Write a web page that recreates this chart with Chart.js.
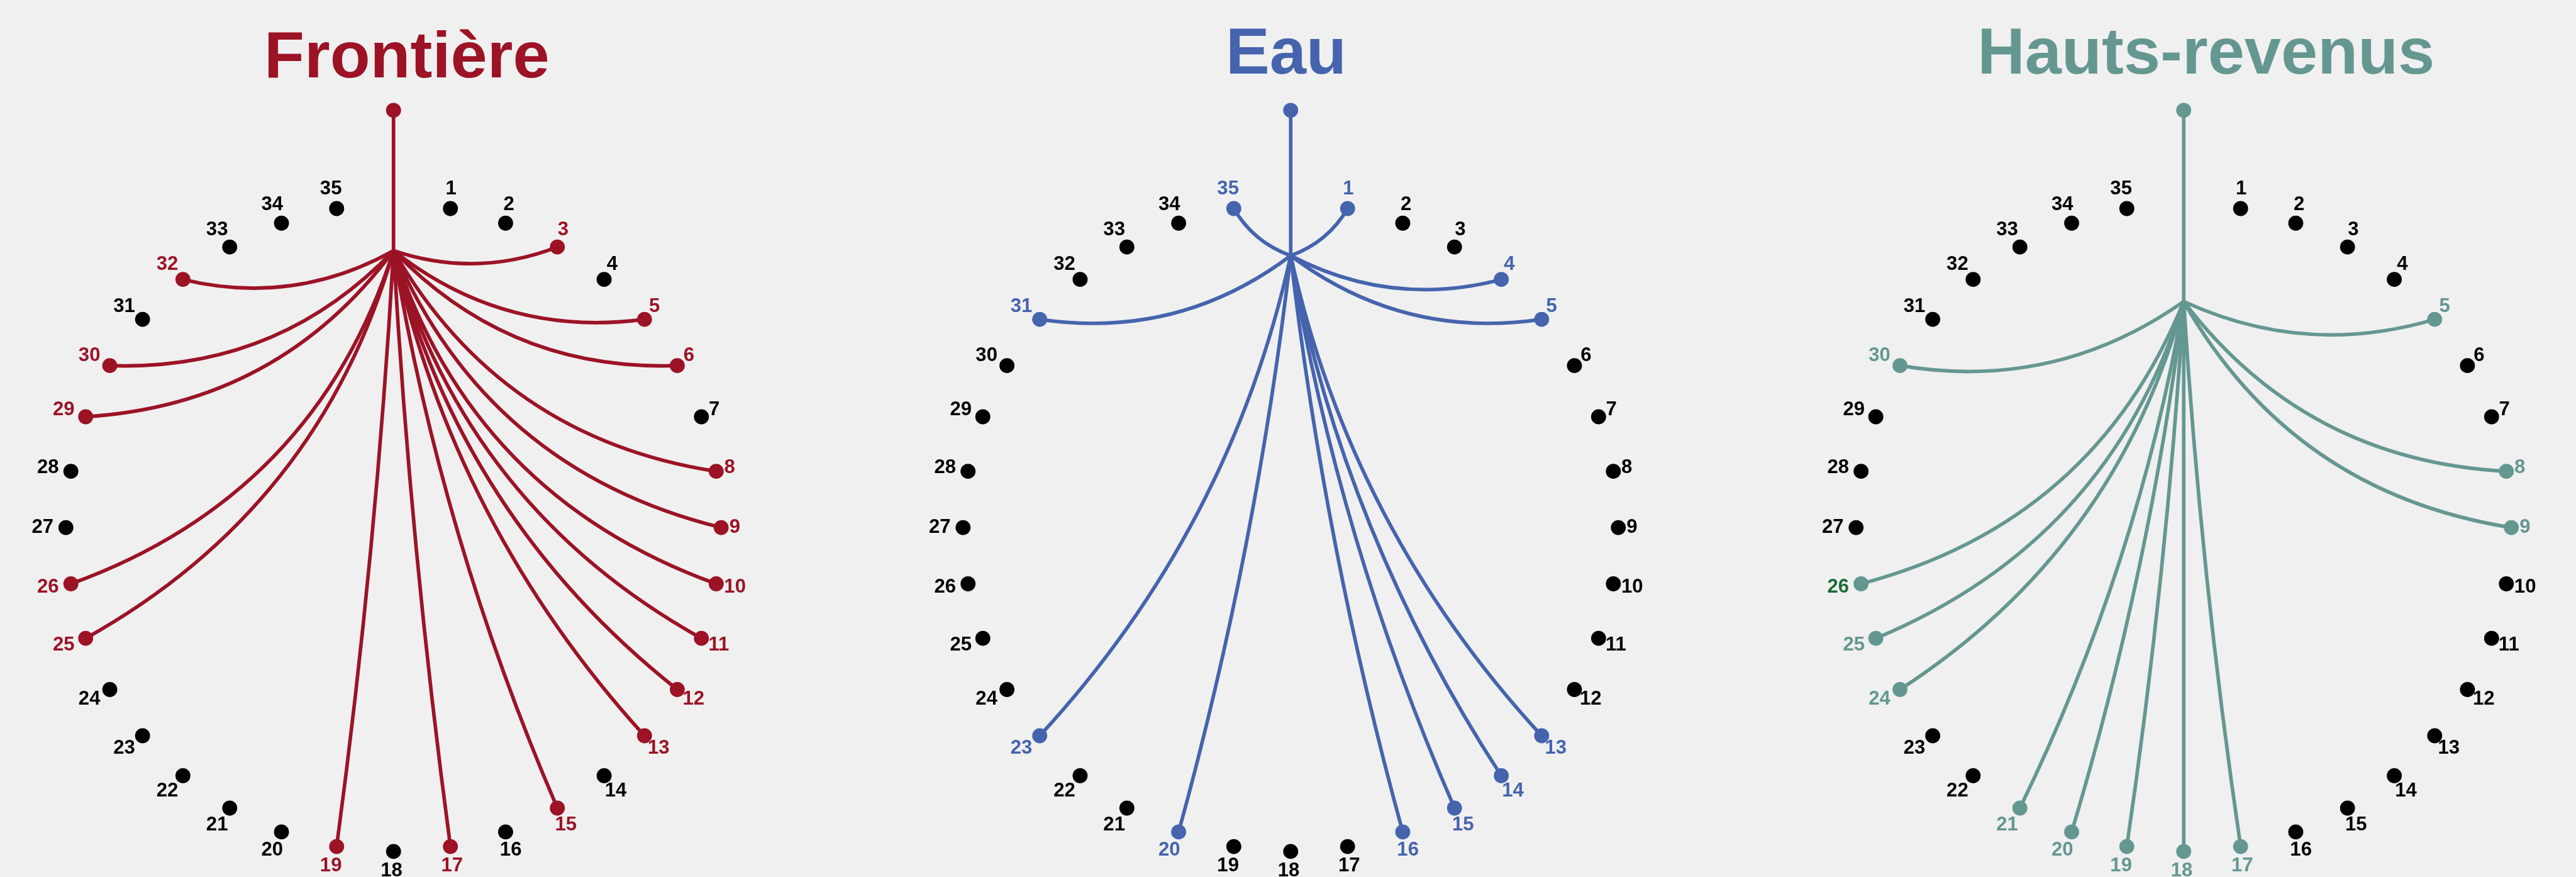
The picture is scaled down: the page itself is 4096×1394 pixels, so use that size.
<!DOCTYPE html>
<html lang="fr">
<head>
<meta charset="UTF-8">
<title>Frontière, Eau, Hauts-revenus</title>
<script src="https://cdn.jsdelivr.net/npm/chart.js"></script>
<style>
    html, body { margin: 0; padding: 0; background: #f0f0f0; overflow: hidden; }
    #wrap { width: 100vw; height: 100vh; position: relative; }
</style>
</head>
<body>
<div id="wrap"><canvas id="myChart"></canvas></div>
<script>
// the three panels
var panelTitles = ['Frontière', 'Eau', 'Hauts-revenus'];
var panelColors = ['#9c1326', '#4564ad', '#659791'];

// numbered points around each circle
var leafNumbers = [1, 2, 3, 4, 5, 6, 7, 8, 9, 10, 11, 12, 13, 14, 15, 16, 17, 18,
                   19, 20, 21, 22, 23, 24, 25, 26, 27, 28, 29, 30, 31, 32, 33, 34, 35];

// points linked to the hub, per panel
var linkedFrontiere = [3, 5, 6, 8, 9, 10, 11, 12, 13, 15, 17, 19, 25, 26, 29, 30, 32];
var linkedEau = [1, 4, 5, 13, 14, 15, 16, 20, 23, 31, 35];
var linkedHauts = [5, 8, 9, 17, 18, 19, 20, 21, 24, 25, 26, 30];
var linkedSets = [linkedFrontiere, linkedEau, linkedHauts];

// label drawn in a darker green in the last panel
var darkLabelsHauts = [26];

// layout, in units of the original 6183 x 2105 drawing
var refWidth = 6183, refHeight = 2105;
var centerX = [932, 3098, 5254];
var centerY = 1270, radius = 791, slotCount = 36;
var rootY = 251;
var hubY = [594, 606, 718];
var titleX = [964, 3087, 5308];
var titleBase = [171, 161, 161];

// how much a link bends, by the angle of its chord below the horizontal
var bendAngles = [-45, 0, 20, 45, 60, 75, 90];
var bendDegrees = [20, 20, 24, 27, 17, 6, 0];

var s = window.innerWidth / refWidth;
var dotR = 18 * s;
var lineW = 8.6 * s;
var fontFamily = '"Liberation Sans", Arial, Helvetica, sans-serif';

function leafPos(p, n) {
    var a = n * 2 * Math.PI / slotCount;
    return { x: centerX[p] + radius * Math.sin(a), y: centerY - radius * Math.cos(a) };
}

function bendFor(angle) {
    if (angle <= bendAngles[0]) return bendDegrees[0];
    for (var i = 1; i < bendAngles.length; i++) {
        if (angle <= bendAngles[i]) {
            var t = (angle - bendAngles[i - 1]) / (bendAngles[i] - bendAngles[i - 1]);
            return bendDegrees[i - 1] + t * (bendDegrees[i] - bendDegrees[i - 1]);
        }
    }
    return bendDegrees[bendDegrees.length - 1];
}

// control point of the bent link: bulges downwards / towards the middle
function bendPoint(a, b) {
    var dx = b.x - a.x, dy = b.y - a.y;
    var len = Math.sqrt(dx * dx + dy * dy);
    var below = Math.atan2(dy, Math.abs(dx)) * 180 / Math.PI;
    var dev = bendFor(below);
    var nx = dx >= 0 ? -dy / len : dy / len;
    var ny = Math.abs(dx) / len;
    var h = len / 2 * Math.tan(dev * Math.PI / 180);
    return { x: (a.x + b.x) / 2 + nx * h, y: (a.y + b.y) / 2 + ny * h };
}

var datasets = [];
panelTitles.forEach(function(title, p) {
    var linked = linkedSets[p];
    datasets.push({
        label: title,
        data: [{ x: centerX[p], y: rootY }, { x: centerX[p], y: hubY[p] }],
        showLine: true,
        borderColor: panelColors[p],
        borderWidth: lineW,
        pointRadius: [dotR, 0],
        pointBackgroundColor: panelColors[p],
        pointBorderWidth: 0
    });
    datasets.push({
        label: title + ' - autres',
        data: leafNumbers.filter(function(n) { return linked.indexOf(n) < 0; })
                         .map(function(n) { return leafPos(p, n); }),
        pointRadius: dotR,
        pointBackgroundColor: '#000000',
        pointBorderWidth: 0
    });
    datasets.push({
        label: title + ' - liés',
        data: linked.map(function(n) { return leafPos(p, n); }),
        pointRadius: dotR,
        pointBackgroundColor: panelColors[p],
        pointBorderWidth: 0
    });
});

var linkPlugin = {
    id: 'links',
    beforeDatasetsDraw: function(chart) {
        var xs = chart.scales.x, ys = chart.scales.y, ctx = chart.ctx;
        ctx.save();
        ctx.lineWidth = lineW;
        ctx.lineCap = 'round';
        linkedSets.forEach(function(linked, p) {
            var hub = { x: centerX[p], y: hubY[p] };
            ctx.strokeStyle = panelColors[p];
            linked.forEach(function(n) {
                var leaf = leafPos(p, n);
                var c = bendPoint(hub, leaf);
                ctx.beginPath();
                ctx.moveTo(xs.getPixelForValue(hub.x), ys.getPixelForValue(hub.y));
                ctx.quadraticCurveTo(xs.getPixelForValue(c.x), ys.getPixelForValue(c.y),
                                     xs.getPixelForValue(leaf.x), ys.getPixelForValue(leaf.y));
                ctx.stroke();
            });
        });
        ctx.restore();
    }
};

var textPlugin = {
    id: 'texts',
    afterDatasetsDraw: function(chart) {
        var xs = chart.scales.x, ys = chart.scales.y, ctx = chart.ctx;
        ctx.save();
        ctx.textBaseline = 'alphabetic';
        ctx.textAlign = 'center';

        // titles
        ctx.font = 'bold ' + (158 * s) + 'px ' + fontFamily;
        panelTitles.forEach(function(title, p) {
            ctx.fillStyle = panelColors[p];
            ctx.fillText(title, xs.getPixelForValue(titleX[p]), ys.getPixelForValue(titleBase[p]));
        });

        // point numbers
        var fs = 47 * s;
        ctx.font = 'bold ' + fs + 'px ' + fontFamily;
        linkedSets.forEach(function(linked, p) {
            leafNumbers.forEach(function(n) {
                var pos = leafPos(p, n);
                var a = n * 2 * Math.PI / slotCount;
                var txt = String(n);
                var w = ctx.measureText(txt).width / s;
                var ox = Math.sin(a) * (25 + w / 2) - 5;
                var oy = -Math.cos(a) * 48 - 4;
                var col = '#000000';
                if (linked.indexOf(n) >= 0) col = panelColors[p];
                if (p === 2 && darkLabelsHauts.indexOf(n) >= 0) col = '#1c6b3a';
                ctx.fillStyle = col;
                ctx.fillText(txt, xs.getPixelForValue(pos.x + ox),
                             ys.getPixelForValue(pos.y + oy) + fs * 0.36);
            });
        });
        ctx.restore();
    }
};

var ctx = document.getElementById('myChart').getContext('2d');
var myChart = new Chart(ctx, {
    type: 'scatter',
    data: { datasets: datasets },
    options: {
        responsive: true,
        maintainAspectRatio: false,
        animation: false,
        events: [],
        layout: { padding: 0 },
        plugins: { legend: { display: false }, tooltip: { enabled: false } },
        scales: {
            x: { type: 'linear', min: 0, max: refWidth, display: false },
            y: { type: 'linear', min: 0, max: refHeight, reverse: true, display: false }
        }
    },
    plugins: [linkPlugin, textPlugin]
});
</script>
</body>
</html>
